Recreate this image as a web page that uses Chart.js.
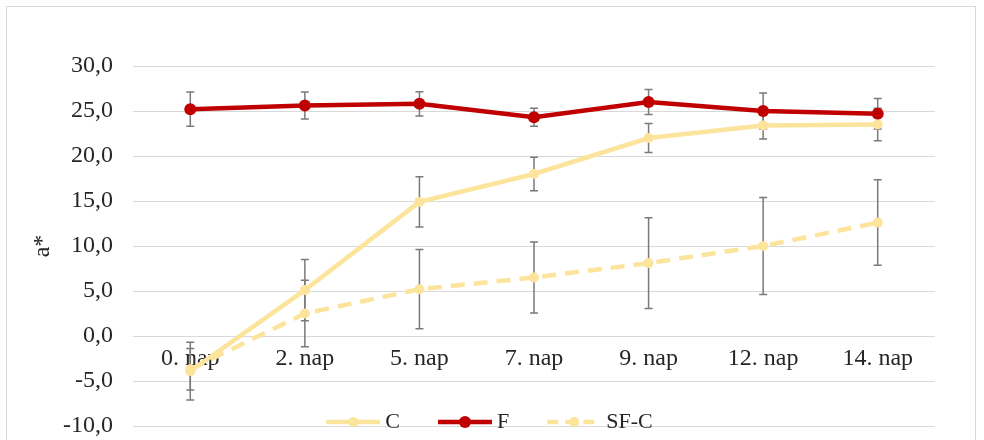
<!DOCTYPE html>
<html>
<head>
<meta charset="utf-8">
<script src="https://cdn.jsdelivr.net/npm/chart.js@4.4.1/dist/chart.umd.min.js"></script>
<style>
html, body { margin: 0; padding: 0; background: #fff; overflow: hidden; }
#keret { position: absolute; left: 6px; top: 6px; width: 968px; height: 470px; border: 1px solid #d9d9d9; overflow: hidden; }
canvas { display: block; }
</style>
</head>
<body>
<div id="keret"><canvas id="grafikon" width="968" height="510"></canvas></div>
<script>
// Adatok
const napok = ['0. nap', '2. nap', '5. nap', '7. nap', '9. nap', '12. nap', '14. nap'];
const ertekC = [-3.9, 5.1, 14.9, 18.0, 22.0, 23.4, 23.5];
const hibaC = [3.2, 3.4, 2.8, 1.85, 1.6, 1.5, 1.8];
const ertekF = [25.2, 25.6, 25.8, 24.3, 26.0, 25.0, 24.7];
const hibaF = [1.9, 1.5, 1.35, 1.0, 1.4, 2.0, 1.7];
const ertekSFC = [-3.7, 2.5, 5.2, 6.5, 8.1, 10.0, 12.6];
const hibaSFC = [2.3, 3.7, 4.4, 3.95, 5.05, 5.4, 4.75];
const yMin = -10, yMax = 30, yLepes = 5;

const sarga = '#fce49c';
const piros = '#c00000';
const betu = 'Liberation Serif';
const szoveg = '#262626';

// Jelmagyarázat ikon: vonal + pont
function ikon(szin, szaggatott, sugar) {
    const c = document.createElement('canvas');
    c.width = 60;
    c.height = 14;
    const g = c.getContext('2d');
    g.strokeStyle = szin;
    g.lineWidth = 4.5;
    if (szaggatott) g.setLineDash([11, 7]);
    g.beginPath();
    g.moveTo(6, 7);
    g.lineTo(60, 7);
    g.stroke();
    g.fillStyle = szin;
    g.beginPath();
    g.arc(33, 7, sugar, 0, Math.PI * 2);
    g.fill();
    return c;
}
const ikonok = [ikon(sarga, false, 5), ikon(piros, false, 6), ikon(sarga, true, 5)];

// Hibasávok rajzolása a y skála alapján
const hibaSavok = {
    id: 'hibaSavok',
    beforeDatasetsDraw(chart) {
        const ctx = chart.ctx;
        const y = chart.scales.y;
        ctx.save();
        ctx.strokeStyle = '#7a7a7a';
        ctx.lineWidth = 1.5;
        chart.data.datasets.forEach((ds, i) => {
            chart.getDatasetMeta(i).data.forEach((pont, j) => {
                const fent = y.getPixelForValue(ds.data[j] + ds.hibak[j]);
                const lent = y.getPixelForValue(ds.data[j] - ds.hibak[j]);
                ctx.beginPath();
                ctx.moveTo(pont.x, fent);
                ctx.lineTo(pont.x, lent);
                ctx.moveTo(pont.x - 4, fent);
                ctx.lineTo(pont.x + 4, fent);
                ctx.moveTo(pont.x - 4, lent);
                ctx.lineTo(pont.x + 4, lent);
                ctx.stroke();
            });
        });
        ctx.restore();
    }
};

// A jelmagyarázat a -10-es vonal fölé kerül, mint az eredetin
const jelmHelye = {
    id: 'jelmHelye',
    afterLayout(chart) {
        const l = chart.legend;
        const cel = chart.chartArea.bottom - 4;
        const dy = cel - (l.top + l.options.labels.padding + 11);
        l.top += dy;
        l.bottom += dy;
        l.left += 8;
        l.right += 8;
    }
};

const ctx = document.getElementById('grafikon').getContext('2d');
const grafikon = new Chart(ctx, {
    type: 'line',
    data: {
        labels: napok,
        datasets: [{
            label: 'C',
            data: ertekC,
            hibak: hibaC,
            borderColor: sarga,
            backgroundColor: sarga,
            borderWidth: 4.5,
            pointRadius: 5,
            pointBorderWidth: 0,
            pointBackgroundColor: sarga
        }, {
            label: 'F',
            data: ertekF,
            hibak: hibaF,
            borderColor: piros,
            backgroundColor: piros,
            borderWidth: 4.5,
            pointRadius: 6,
            pointBorderWidth: 0,
            pointBackgroundColor: piros
        }, {
            label: 'SF-C',
            data: ertekSFC,
            hibak: hibaSFC,
            borderColor: sarga,
            backgroundColor: sarga,
            borderWidth: 4.5,
            borderDash: [14, 9],
            pointRadius: 5,
            pointBorderWidth: 0,
            pointBackgroundColor: sarga
        }]
    },
    options: {
        responsive: false,
        animation: false,
        layout: { padding: { left: 21, right: 40, top: 59, bottom: 21 } },
        plugins: {
            tooltip: { enabled: false },
            legend: {
                position: 'bottom',
                labels: {
                    font: { family: betu, size: 22 },
                    color: szoveg,
                    padding: 38,
                    usePointStyle: true,
                    pointStyleWidth: 48,
                    generateLabels(chart) {
                        const elemek = Chart.defaults.plugins.legend.labels.generateLabels(chart);
                        elemek.forEach((e, i) => { e.pointStyle = ikonok[i]; });
                        return elemek;
                    }
                }
            }
        },
        scales: {
            x: {
                offset: true,
                position: { y: 0 },
                grid: { display: false, offset: true },
                border: { display: false },
                ticks: {
                    font: { family: betu, size: 24 },
                    color: szoveg,
                    padding: 0,
                    maxRotation: 0,
                    autoSkip: false
                }
            },
            y: {
                min: yMin,
                max: yMax,
                afterFit(scale) { scale.width = 105; },
                grid: { color: '#d9d9d9', drawTicks: false, lineWidth: 1 },
                border: { display: false },
                ticks: {
                    stepSize: yLepes,
                    font: { family: betu, size: 24 },
                    color: szoveg,
                    padding: 20,
                    callback: v => v.toFixed(1).replace('.', ',')
                },
                title: {
                    display: true,
                    text: 'a*',
                    font: { family: betu, size: 24 },
                    color: szoveg,
                    padding: { top: 0, bottom: 0 }
                }
            }
        }
    },
    plugins: [hibaSavok, jelmHelye]
});
</script>
</body>
</html>
